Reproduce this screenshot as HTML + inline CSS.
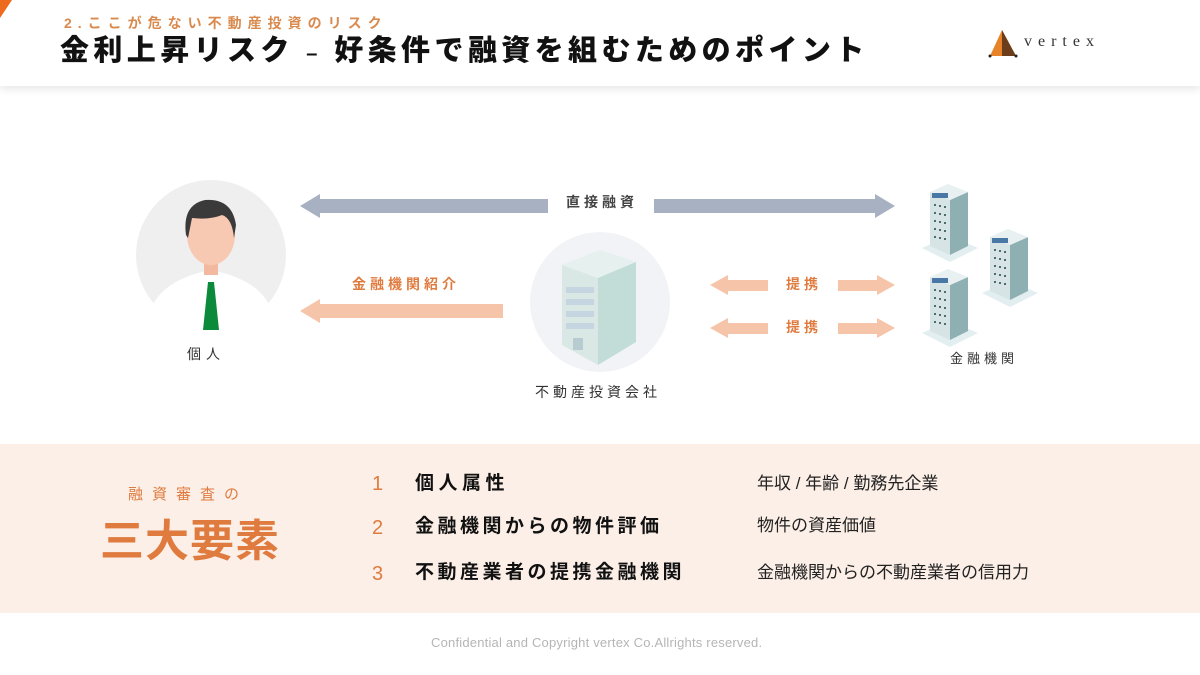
<!DOCTYPE html>
<html><head><meta charset="utf-8"><style>
*{margin:0;padding:0;box-sizing:border-box}
body{width:1200px;height:675px;position:relative;background:#fff;font-family:"Liberation Sans","Noto Sans CJK JP",sans-serif;overflow:hidden}
.a{position:absolute;white-space:nowrap;line-height:1}
</style></head><body>
<div class="a" style="left:0;top:0;width:1200px;height:86px;background:#fff;box-shadow:0 3px 8px rgba(0,0,0,0.10)"></div>
<svg class="a" style="left:0;top:0" width="30" height="30"><polygon points="0,0 12,0 0,18" fill="#ee6a1f"/></svg>
<div class="a" style="left:64px;top:16px;font-size:14px;color:#d98a4e;letter-spacing:6px;font-weight:bold">2.ここが危ない不動産投資のリスク</div>
<div class="a" style="left:60px;top:37px;font-size:29px;font-weight:900;color:#111;letter-spacing:4.4px">金利上昇リスク <span style="font-size:20px">–</span> 好条件で融資を組むためのポイント</div>
<svg class="a" style="left:988px;top:28px" width="36" height="32"><polygon points="14,2 2,28 28,28" fill="#e8832a"/><polygon points="14,2 14,28 28,28" fill="#6b3d1a"/><circle cx="2" cy="28" r="1.5" fill="#222"/><circle cx="28" cy="28" r="1.5" fill="#222"/></svg>
<div class="a" style="left:1024px;top:34px;font-size:16px;color:#333;letter-spacing:6px;font-family:'Liberation Serif',serif">vertex</div>

<svg class="a" style="left:0;top:100px" width="1200" height="320">
<circle cx="211" cy="155" r="75" fill="#efefef"/>
<path d="M150 212 Q160 180 211 170 Q262 180 272 212 A75 75 0 0 1 150 212Z" fill="#fff"/>
<rect x="204" y="155" width="14" height="20" fill="#f3b9a0"/>
<ellipse cx="211" cy="135" rx="24" ry="30" fill="#f8c9b2"/>
<path d="M186 135 Q182 105 205 100 Q232 98 236 125 L234 138 Q232 118 222 115 Q210 120 192 118 L188 138Z" fill="#3a3a3a"/>
<polygon points="208,182 214,182 219,230 203,230" fill="#0c8a3c"/>
<rect x="318" y="99" width="230" height="14" fill="#a8b1c2"/>
<polygon points="300,106 320,94 320,118" fill="#a8b1c2"/>
<rect x="654" y="99" width="222" height="14" fill="#a8b1c2"/>
<polygon points="895,106 875,94 875,118" fill="#a8b1c2"/>
<rect x="318" y="204" width="185" height="14" fill="#f6c4a9"/>
<polygon points="300,211 320,199 320,223" fill="#f6c4a9"/>
<circle cx="600" cy="202" r="70" fill="#f1f3f6"/>
<polygon points="562,165 600,150 636,162 598,178" fill="#e6f0ee"/>
<polygon points="562,165 598,178 598,265 562,245" fill="#d9e8e5"/>
<polygon points="598,178 636,162 636,242 598,265" fill="#c2dcd7"/>
<g fill="#c6d6e0"><rect x="566" y="187" width="28" height="6"/><rect x="566" y="199" width="28" height="6"/><rect x="566" y="211" width="28" height="6"/><rect x="566" y="223" width="28" height="6"/></g>
<rect x="573" y="238" width="10" height="12" fill="#b7cbd0"/>
<g fill="#f6c4a9">
<rect x="725" y="180" width="43" height="11"/><polygon points="710,185 728,175 728,195"/>
<rect x="838" y="180" width="42" height="11"/><polygon points="895,185 877,175 877,195"/>
<rect x="725" y="223" width="43" height="11"/><polygon points="710,228 728,218 728,238"/>
<rect x="838" y="223" width="42" height="11"/><polygon points="895,228 877,218 877,238"/>
</g>
<g id="b">
<polygon points="922,148 950,162 978,148 950,136" fill="#e2eef0"/>
<polygon points="930,92 950,100 950,155 930,146" fill="#d6e4e6"/>
<polygon points="950,100 968,92 968,146 950,155" fill="#8fb0b3"/>
<polygon points="930,92 948,84 968,92 950,100" fill="#e8f0f2"/>
<rect x="932" y="93" width="16" height="5" fill="#4a78a6"/>
<g fill="#4d6b70"><rect x="934" y="104" width="2" height="2"/><rect x="939" y="105" width="2" height="2"/><rect x="944" y="106" width="2" height="2"/><rect x="934" y="112" width="2" height="2"/><rect x="939" y="113" width="2" height="2"/><rect x="944" y="114" width="2" height="2"/><rect x="934" y="120" width="2" height="2"/><rect x="939" y="121" width="2" height="2"/><rect x="944" y="122" width="2" height="2"/><rect x="934" y="128" width="2" height="2"/><rect x="939" y="129" width="2" height="2"/><rect x="944" y="130" width="2" height="2"/><rect x="934" y="136" width="2" height="2"/><rect x="939" y="137" width="2" height="2"/><rect x="944" y="138" width="2" height="2"/></g>
</g>
<use href="#b" x="60" y="45"/>
<use href="#b" x="0" y="85"/>
</svg>

<div class="a" style="left:566px;top:195px;font-size:14px;font-weight:bold;color:#444;letter-spacing:4px">直接融資</div>
<div class="a" style="left:352px;top:277px;font-size:14px;font-weight:bold;color:#e07b3f;letter-spacing:4px">金融機関紹介</div>
<div class="a" style="left:786px;top:277px;font-size:14px;font-weight:bold;color:#e07b3f;letter-spacing:4px">提携</div>
<div class="a" style="left:786px;top:320px;font-size:14px;font-weight:bold;color:#e07b3f;letter-spacing:4px">提携</div>
<div class="a" style="left:187px;top:347px;font-size:14px;color:#333;letter-spacing:5px">個人</div>
<div class="a" style="left:535px;top:385px;font-size:14px;color:#333;letter-spacing:4px">不動産投資会社</div>
<div class="a" style="left:950px;top:352px;font-size:13px;color:#333;letter-spacing:4px">金融機関</div>

<div class="a" style="left:0;top:444px;width:1200px;height:169px;background:#fcefe7"></div>
<div class="a" style="left:128px;top:487px;font-size:15px;color:#e07b3f;letter-spacing:9px">融資審査の</div>
<div class="a" style="left:100px;top:520px;font-size:44px;font-weight:bold;color:#e07b3f;letter-spacing:1px">三大要素</div>
<div class="a" style="left:372px;top:474px;font-size:20px;color:#e07b3f">1</div>
<div class="a" style="left:372px;top:518px;font-size:20px;color:#e07b3f">2</div>
<div class="a" style="left:372px;top:564px;font-size:20px;color:#e07b3f">3</div>
<div class="a" style="left:415px;top:474px;font-size:19px;font-weight:bold;color:#111;letter-spacing:4.5px">個人属性</div>
<div class="a" style="left:415px;top:517px;font-size:19px;font-weight:bold;color:#111;letter-spacing:3.5px">金融機関からの物件評価</div>
<div class="a" style="left:415px;top:563px;font-size:19px;font-weight:bold;color:#111;letter-spacing:3.5px">不動産業者の提携金融機関</div>
<div class="a" style="left:757px;top:475px;font-size:17px;color:#222">年収 / 年齢 / 勤務先企業</div>
<div class="a" style="left:757px;top:517px;font-size:17px;color:#222">物件の資産価値</div>
<div class="a" style="left:757px;top:564px;font-size:17px;color:#222">金融機関からの不動産業者の信用力</div>
<div class="a" style="left:431px;top:636px;font-size:13px;color:#b5b5b5;letter-spacing:0.2px">Confidential and Copyright vertex Co.Allrights reserved.</div>
</body></html>
